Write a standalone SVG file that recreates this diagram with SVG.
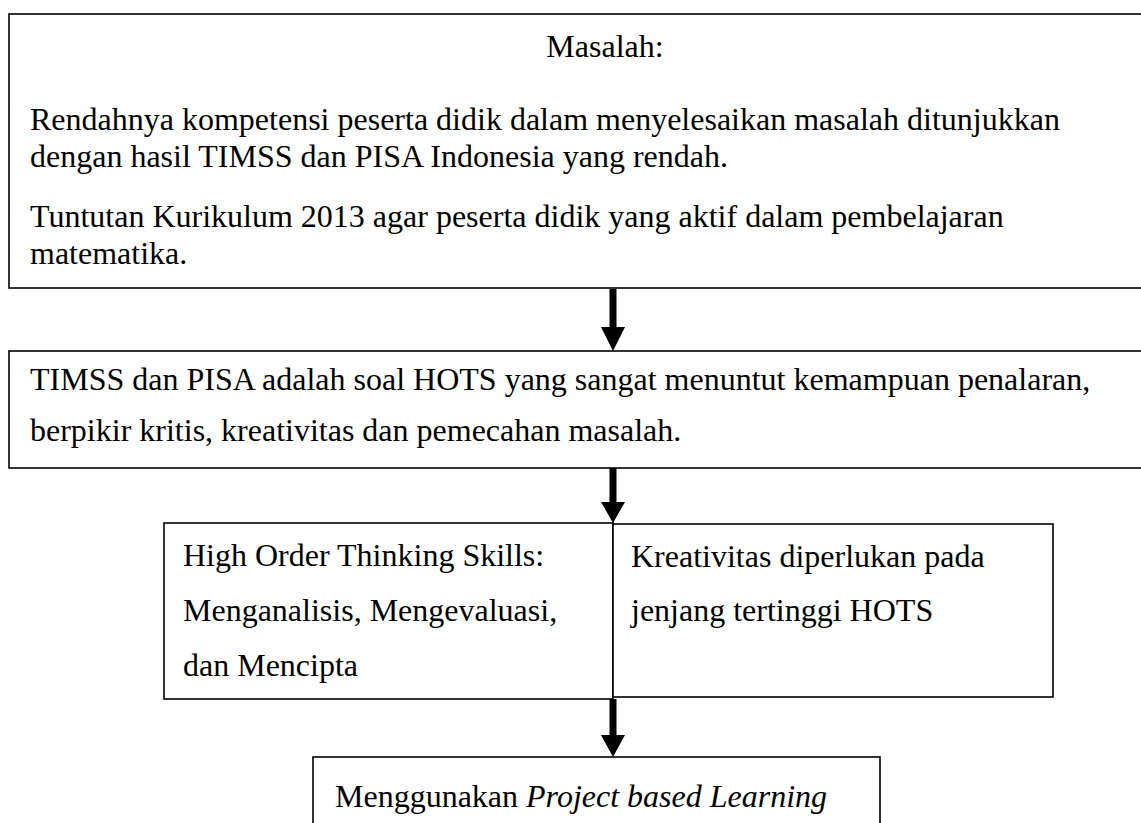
<svg xmlns="http://www.w3.org/2000/svg" width="1141" height="823" viewBox="0 0 1141 823">
<style>
.box{fill:#fff;stroke:#000;stroke-width:1.6}
.t{font-family:"Liberation Serif","Times New Roman",serif;font-size:32px;fill:#000}
.arr{fill:#000;stroke:none}
</style>
<rect width="1141" height="823" fill="#fff"/>
<g id="node-masalah">
<rect class="box" x="9" y="14" width="1145" height="274" stroke-width="2"/>
<text class="t" x="605" y="57" text-anchor="middle">Masalah:</text>
<text class="t" x="30" y="130">Rendahnya kompetensi peserta didik dalam menyelesaikan masalah ditunjukkan</text>
<text class="t" x="30" y="167">dengan hasil TIMSS dan PISA Indonesia yang rendah.</text>
<text class="t" x="30" y="227">Tuntutan Kurikulum 2013 agar peserta didik yang aktif dalam pembelajaran</text>
<text class="t" x="30" y="264">matematika.</text>
</g>
<g id="node-timss">
<rect class="box" x="9" y="351" width="1145" height="117"/>
<text class="t" x="30" y="390">TIMSS dan PISA adalah soal HOTS yang sangat menuntut kemampuan penalaran,</text>
<text class="t" x="30" y="441">berpikir kritis, kreativitas dan pemecahan masalah.</text>
</g>
<g id="node-hots">
<rect class="box" x="164" y="523" width="449" height="176"/>
<text class="t" x="183" y="566">High Order Thinking Skills:</text>
<text class="t" x="183" y="621">Menganalisis, Mengevaluasi,</text>
<text class="t" x="183" y="676">dan Mencipta</text>
</g>
<g id="node-kreativitas">
<rect class="box" x="613" y="524" width="440" height="173"/>
<text class="t" x="631" y="567">Kreativitas diperlukan pada</text>
<text class="t" x="631" y="621">jenjang tertinggi HOTS</text>
</g>
<g id="node-pjbl">
<rect class="box" x="313" y="757" width="567" height="80"/>
<text class="t" x="335" y="807">Menggunakan <tspan font-style="italic">Project based Learning</tspan></text>
</g>
<g id="connectors">
<rect class="arr" x="609.5" y="289" width="7" height="39"/>
<polygon class="arr" points="601,327 625,327 613,351"/>
<rect class="arr" x="609.5" y="468" width="7" height="36"/>
<polygon class="arr" points="601,502 625,502 613,523"/>
<rect class="arr" x="609.5" y="699" width="7" height="37"/>
<polygon class="arr" points="601,735 625,735 613,757"/>
</g>
</svg>
